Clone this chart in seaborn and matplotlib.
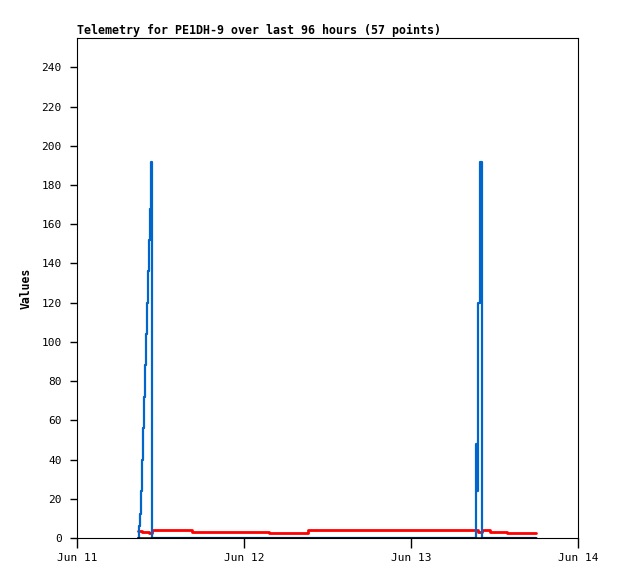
import numpy as np
import pandas as pd
import matplotlib
matplotlib.use("Agg")
import matplotlib.pyplot as plt
import matplotlib.dates as mdates
import seaborn as sns

# ---- data ----
times = [
    "2024-06-11 08:46", "2024-06-11 08:55", "2024-06-11 09:03", "2024-06-11 09:12",
    "2024-06-11 09:20", "2024-06-11 09:29", "2024-06-11 09:38", "2024-06-11 09:46",
    "2024-06-11 09:55", "2024-06-11 10:04", "2024-06-11 10:12", "2024-06-11 10:21",
    "2024-06-11 10:29", "2024-06-11 10:36", "2024-06-11 10:42", "2024-06-11 10:51",
    "2024-06-11 16:32", "2024-06-12 03:35", "2024-06-12 09:12",
    "2024-06-13 09:21", "2024-06-13 09:29", "2024-06-13 09:35", "2024-06-13 09:42",
    "2024-06-13 09:51", "2024-06-13 09:59", "2024-06-13 10:08", "2024-06-13 10:12",
    "2024-06-13 11:21", "2024-06-13 13:48", "2024-06-13 17:58",
]
blue_vals = [0, 6, 12, 24, 40, 56, 72, 88, 104, 120, 136, 152, 168, 184, 192, 0,
             0, 0, 0,
             48, 24, 72, 120, 168, 192, 0, 0,
             0, 0, 0]
red_vals = [3.7, 3.7, 3.7, 3.7, 3.2, 3.2, 3.2, 3.2, 3.2, 3.2, 3.2, 2.7, 2.7, 2.7, 2.7, 3.9,
            3.2, 2.7, 3.9,
            3.9, 3.9, 3.2, 3.2, 3.2, 3.2, 3.2, 4.3,
            3.2, 2.7, 2.7]
black_vals = [0] * len(times)

series_names = ["Red", "Blue", "Black"]
series_colors = ["#ff0000", "#0066cc", "#000000"]
series_widths = [2.0, 1.6, 1.8]
title = "Telemetry for PE1DH-9 over last 96 hours (57 points)"
y_label = "Values"
y_ticks = list(range(0, 241, 20))
x_ticks = ["2024-06-11", "2024-06-12", "2024-06-13", "2024-06-14"]

# ---- build long table ----
t = pd.to_datetime(times)
df = pd.concat([
    pd.DataFrame({"time": t, "value": red_vals, "series": "Red"}),
    pd.DataFrame({"time": t, "value": blue_vals, "series": "Blue"}),
    pd.DataFrame({"time": t, "value": black_vals, "series": "Black"}),
], ignore_index=True)

sns.set_theme(style="ticks")
plt.rcParams["font.family"] = ["DejaVu Sans Mono", "DejaVu Sans"]

fig = plt.figure(figsize=(6.18, 5.79), dpi=100)
ax = fig.add_axes([77 / 618, 1 - 538 / 579, (578 - 77) / 618, (538 - 38) / 579])

for name, col, lw in zip(series_names, series_colors, series_widths):
    sns.lineplot(data=df[df["series"] == name], x="time", y="value", ax=ax,
                 color=col, linewidth=lw, drawstyle="steps-post",
                 estimator=None, legend=False)

ax.set_xlim(pd.Timestamp(x_ticks[0]), pd.Timestamp(x_ticks[-1]))
ax.set_ylim(0, 255)
ax.set_yticks(y_ticks)
ax.set_xticks(pd.to_datetime(x_ticks))
ax.xaxis.set_major_formatter(mdates.DateFormatter("%b %d"))

ax.tick_params(axis="x", length=7, width=1, color="black", labelsize=8, pad=4, labelcolor="black")
ax.tick_params(axis="y", length=5, width=1, color="black", labelsize=8, pad=6, labelcolor="black")
for s in ax.spines.values():
    s.set_visible(True)
    s.set_color("black")
    s.set_linewidth(0.8)

ax.set_xlabel("")
ax.set_ylabel(y_label, fontsize=8.3, fontweight="bold", labelpad=6, color="black")
ax.set_title(title, loc="left", fontsize=8.35, fontweight="bold", pad=3, color="black")

fig.savefig("out.png", dpi=100)
